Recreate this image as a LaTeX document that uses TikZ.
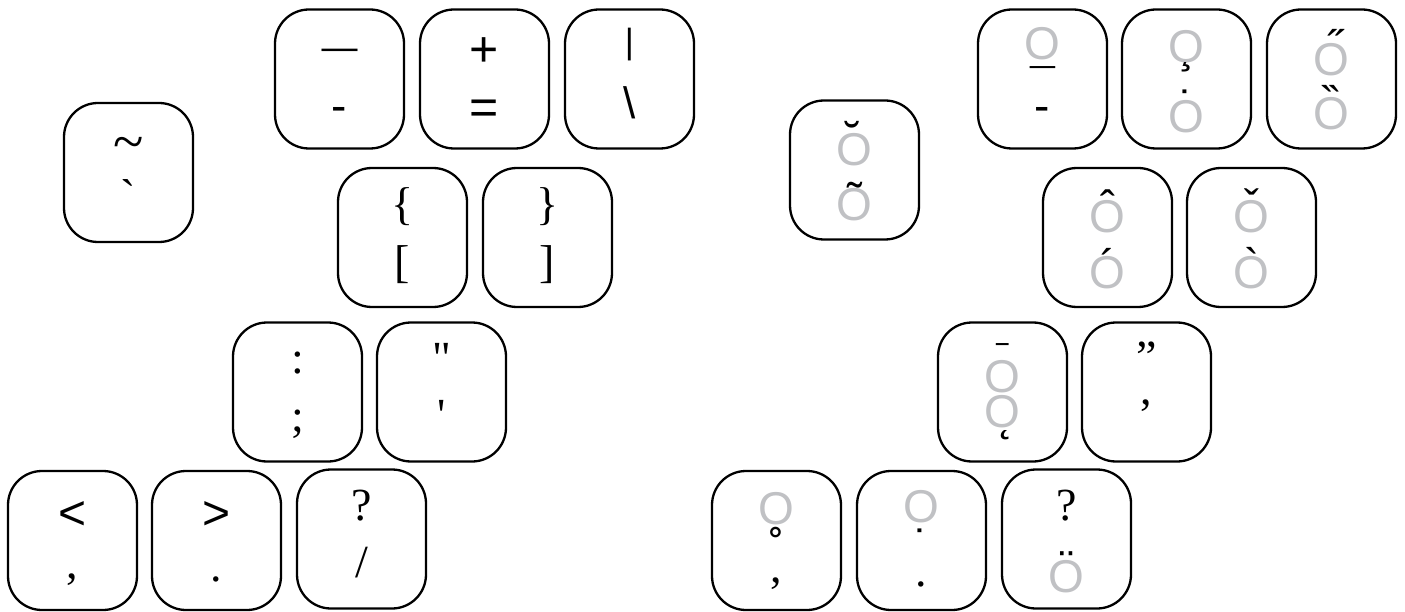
\documentclass[tikz,border=0pt]{standalone}
\usepackage{fontspec}
\usepackage{graphicx}
\setmainfont{Liberation Serif}[Ligatures=TeXOff]
\newfontfamily\sansf{Liberation Sans}[Ligatures=TeXOff]
\definecolor{ogray}{RGB}{192,193,196}
\tikzset{
  keycap/.style={draw, line width=2.3pt, rounded corners=34pt, minimum width=129pt, minimum height=139pt, inner sep=0pt},
  serifleg/.style={inner sep=0pt, anchor=north, font=\fontsize{46}{46}\selectfont},
  sansleg/.style={inner sep=0pt, anchor=north, font=\sansf\fontsize{46}{46}\selectfont},
  grayo/.style={inner sep=0pt, anchor=north, text=ogray, font=\sansf\fontsize{46}{46}\selectfont},
  acc/.style={inner sep=0pt, anchor=north, font=\sansf\fontsize{45}{45}\selectfont}
}
\begin{document}
\begin{tikzpicture}[x=1pt,y=-1pt]
\useasboundingbox (0,0) rectangle (1405,612);
% ---------- left keyboard ----------
\node[keycap] (ktilde) at (128.5,172.5) {};
\node[serifleg, font=\fontsize{56}{56}\selectfont] (ltildeA) at (129,137) {\symbol{"7E}};
\node[serifleg] (ltildeB) at (128.5,179) {\symbol{"60}};

\node[keycap] (kdash) at (339.5,79) {};
\node[sansleg, font=\sansf\fontsize{36}{36}\selectfont] (ldashA) at (339.5,49) {\symbol{"2014}};
\node[sansleg] (ldashB) at (339.5,107) {-};

\node[keycap] (kplus) at (484.5,79) {};
\node[sansleg, font=\sansf\fontsize{50}{50}\selectfont] (lplusA) at (484.5,37) {+};
\node[sansleg, font=\sansf\fontsize{50}{50}\selectfont] (lplusB) at (484.5,100) {=};

\node[keycap] (kbar) at (629.5,79) {};
\node[sansleg, font=\sansf\fontsize{35}{35}\selectfont] (lbarA) at (629.5,28) {|};
\node[sansleg, font=\sansf\fontsize{44}{44}\selectfont] (lbarB) at (629.5,86) {\symbol{"5C}};

\node[keycap] (klbrace) at (402.5,237.5) {};
\node[serifleg] (llbraceA) at (402.5,187) {\symbol{"7B}};
\node[serifleg] (llbraceB) at (402.5,245) {[};

\node[keycap] (krbrace) at (547.5,237.5) {};
\node[serifleg] (lrbraceA) at (547.5,187) {\symbol{"7D}};
\node[serifleg] (lrbraceB) at (547.5,245) {]};

\node[keycap] (kcolon) at (297.5,392) {};
\node[serifleg] (lcolonA) at (297.5,352) {:};
\node[serifleg] (lcolonB) at (297.5,410) {;};

\node[keycap] (kquote) at (441.5,392) {};
\node[serifleg] (lquoteA) at (441.5,343) {\symbol{"22}};
\node[serifleg] (lquoteB) at (441.5,400) {\symbol{"27}};

\node[keycap] (kless) at (72.5,540.5) {};
\node[sansleg, font=\sansf\fontsize{48}{48}\selectfont] (llessA) at (72.5,501) {<};
\node[serifleg] (llessB) at (72.5,574) {,};

\node[keycap] (kgreater) at (216.5,540.5) {};
\node[sansleg, font=\sansf\fontsize{48}{48}\selectfont] (lgreaterA) at (216.5,501) {>};
\node[serifleg] (lgreaterB) at (216.5,577) {.};

\node[keycap] (kquest) at (361.5,539) {};
\node[serifleg] (lquestA) at (361.5,490) {?};
\node[serifleg] (lquestB) at (361.5,547) {/};

% ---------- right keyboard ----------
\node[keycap] (kbreve) at (854.5,170) {};
\node[acc] (abreve) at (853,121) {\symbol{"02D8}};
\node[grayo] (obreve) at (854.5,133) {O};
\node[acc] (atilde) at (854.5,182) {\symbol{"02DC}};
\node[grayo] (otilde) at (854.5,188) {O};

\node[keycap] (kmacb) at (1042.5,79) {};
\node[grayo] (omacb) at (1042.5,27) {O};
\node[acc] (amacb) at (1042.5,66) {\symbol{"00AF}};
\node[sansleg] (lmacbB) at (1042.5,107) {-};

\node[keycap] (kced) at (1186.5,79) {};
\node[grayo] (oced) at (1186.5,30) {O};
\node[acc] (aced) at (1186.5,62) {\symbol{"00B8}};
\node[acc] (adot) at (1186.5,90) {\symbol{"02D9}};
\node[grayo] (odot) at (1186.5,100) {O};

\node[keycap] (kdac) at (1331.5,79) {};
\node[acc] (adac) at (1335,29) {\symbol{"02DD}};
\node[grayo] (odac) at (1331.5,43) {O};
\node[acc] (adgr) at (1332,85) {\scalebox{-1}[1]{\symbol{"02DD}}};
\node[grayo] (odgr) at (1331.5,97) {O};

\node[keycap] (kcirc) at (1107.5,237.5) {};
\node[acc] (acirc) at (1107.5,190) {\symbol{"02C6}};
\node[grayo] (ocirc) at (1107.5,200) {O};
\node[acc] (aacute) at (1107.5,248) {\symbol{"00B4}};
\node[grayo] (oacute) at (1107.5,256) {O};

\node[keycap] (kcaron) at (1251.5,237.5) {};
\node[acc] (acaron) at (1251.5,189) {\symbol{"02C7}};
\node[grayo] (ocaron) at (1251.5,200) {O};
\node[acc] (agrave) at (1251.5,247) {\symbol{"60}};
\node[grayo] (ograve) at (1251.5,256) {O};

\node[keycap] (kmac) at (1002.5,392) {};
\node[acc] (amac) at (1002.5,343) {\scalebox{0.5}[1]{\symbol{"00AF}}};
\node[grayo] (omac) at (1002.5,360) {O};
\node[grayo] (oogo) at (1002.5,395) {O};
\node[acc, anchor=south] (aogo) at (1007,440) {\symbol{"02DB}};

\node[keycap] (kdquo) at (1146.5,392) {};
\node[serifleg] (ldquoA) at (1146.5,342) {\symbol{"201D}};
\node[serifleg] (ldquoB) at (1146.5,400) {,};

\node[keycap] (kring) at (776.5,540.5) {};
\node[grayo] (oring) at (776.5,492) {O};
\node[acc] (aring) at (776.5,527) {\symbol{"02DA}};
\node[serifleg] (lringB) at (776.5,578) {,};

\node[keycap] (kdotb) at (921.5,540.5) {};
\node[grayo] (odotb) at (921.5,490) {O};
\node[acc] (adotb) at (921.5,529) {\symbol{"02D9}};
\node[serifleg] (ldotbB) at (921.5,582) {.};

\node[keycap] (kuml) at (1066.5,539) {};
\node[serifleg] (lumlA) at (1066.5,490) {?};
\node[acc] (auml) at (1066.5,551) {\symbol{"00A8}};
\node[grayo] (ouml) at (1066.5,560) {O};
\end{tikzpicture}
\end{document}
